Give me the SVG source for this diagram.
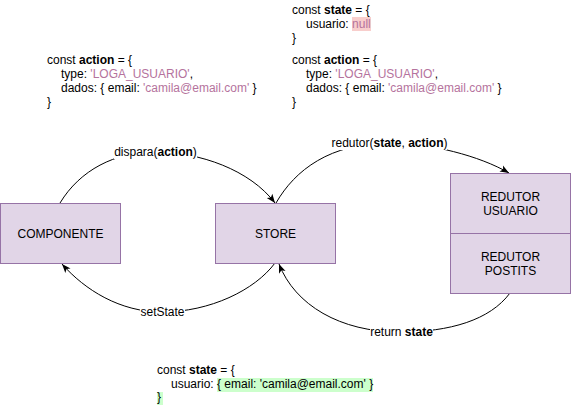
<svg xmlns="http://www.w3.org/2000/svg" width="571" height="405" viewBox="0 0 571 405">
<style>
text{font-family:"Liberation Sans",Arial,sans-serif;font-size:12px;fill:#000}
.b{font-weight:bold}
.s{fill:#b5739d}
.box{fill:#e1d5e7;stroke:#9673a6;stroke-width:1}
.edge{fill:none;stroke:#000;stroke-width:1}
.lbg{fill:#fff}
.mid{text-anchor:middle}
</style>
<defs>
<marker id="arr" markerUnits="userSpaceOnUse" markerWidth="12" markerHeight="10" refX="9" refY="3.5" orient="auto" overflow="visible">
<path d="M0,0 L9,3.5 L0,7 L2.2,3.5 Z" fill="#000"/>
</marker>
</defs>
<rect width="571" height="405" fill="#fff"/>

<g id="code-action-left">
<text x="47" y="64">const <tspan class="b">action</tspan> = {</text>
<text x="61" y="78">type: <tspan class="s">'LOGA_USUARIO'</tspan>,</text>
<text x="61" y="92">dados: { email: <tspan class="s">'camila@email.com'</tspan> }</text>
<text x="47" y="106">}</text>
</g>

<g id="code-state-top">
<rect x="352" y="17" width="19" height="14" fill="#f8cecc"/>
<text x="292" y="14">const <tspan class="b">state</tspan> = {</text>
<text x="306" y="28">usuario: <tspan class="s">null</tspan></text>
<text x="292" y="42">}</text>
</g>

<g id="code-action-right">
<text x="292" y="64">const <tspan class="b">action</tspan> = {</text>
<text x="306" y="78">type: <tspan class="s">'LOGA_USUARIO'</tspan>,</text>
<text x="306" y="92">dados: { email: <tspan class="s">'camila@email.com'</tspan> }</text>
<text x="292" y="106">}</text>
</g>

<g id="code-state-bottom">
<rect x="217" y="378" width="156" height="14" fill="#ccffcc"/>
<rect x="157" y="392" width="6" height="13" fill="#ccffcc"/>
<text x="157" y="374">const <tspan class="b">state</tspan> = {</text>
<text x="171" y="388">usuario: { email: 'camila@email.com' }</text>
<text x="157" y="401">}</text>
</g>

<g id="connectors">
<path class="edge" d="M60,203 C80,170 115,152 155,152 C200,152 250,170 275,203" marker-end="url(#arr)"/>
<path class="edge" d="M276,203 C295,170 330,143 390,143 C430,143 480,156 509,173" marker-end="url(#arr)"/>
<path class="edge" d="M510,293 C490,320 450,332 400,332 C340,332 295,305 279,264" marker-end="url(#arr)"/>
<path class="edge" d="M275,263 C255,290 210,312 162,312 C120,312 85,290 62,264" marker-end="url(#arr)"/>
<rect class="lbg" x="114" y="145" width="83" height="14"/>
<text class="mid" x="155.5" y="156">dispara(<tspan class="b">action</tspan>)</text>
<rect class="lbg" x="332" y="136" width="115" height="14"/>
<text class="mid" x="389.5" y="147">redutor(<tspan class="b">state</tspan>, <tspan class="b">action</tspan>)</text>
<rect class="lbg" x="370" y="325" width="63" height="14"/>
<text class="mid" x="401.5" y="336">return <tspan class="b">state</tspan></text>
<rect class="lbg" x="140" y="305" width="45" height="14"/>
<text class="mid" x="162.5" y="316">setState</text>
</g>

<g id="componente">
<rect class="box" x="0.5" y="203.5" width="120" height="60"/>
<text class="mid" x="60.5" y="237.5">COMPONENTE</text>
</g>

<g id="store">
<rect class="box" x="215.5" y="203.5" width="120" height="60"/>
<text class="mid" x="275.5" y="237.5">STORE</text>
</g>

<g id="redutor-usuario">
<rect class="box" x="450.5" y="173.5" width="120" height="60"/>
<text class="mid" x="510.5" y="201">REDUTOR</text>
<text class="mid" x="510.5" y="215">USUARIO</text>
</g>

<g id="redutor-postits">
<rect class="box" x="450.5" y="233.5" width="120" height="60"/>
<text class="mid" x="510.5" y="261">REDUTOR</text>
<text class="mid" x="510.5" y="275">POSTITS</text>
</g>
</svg>
